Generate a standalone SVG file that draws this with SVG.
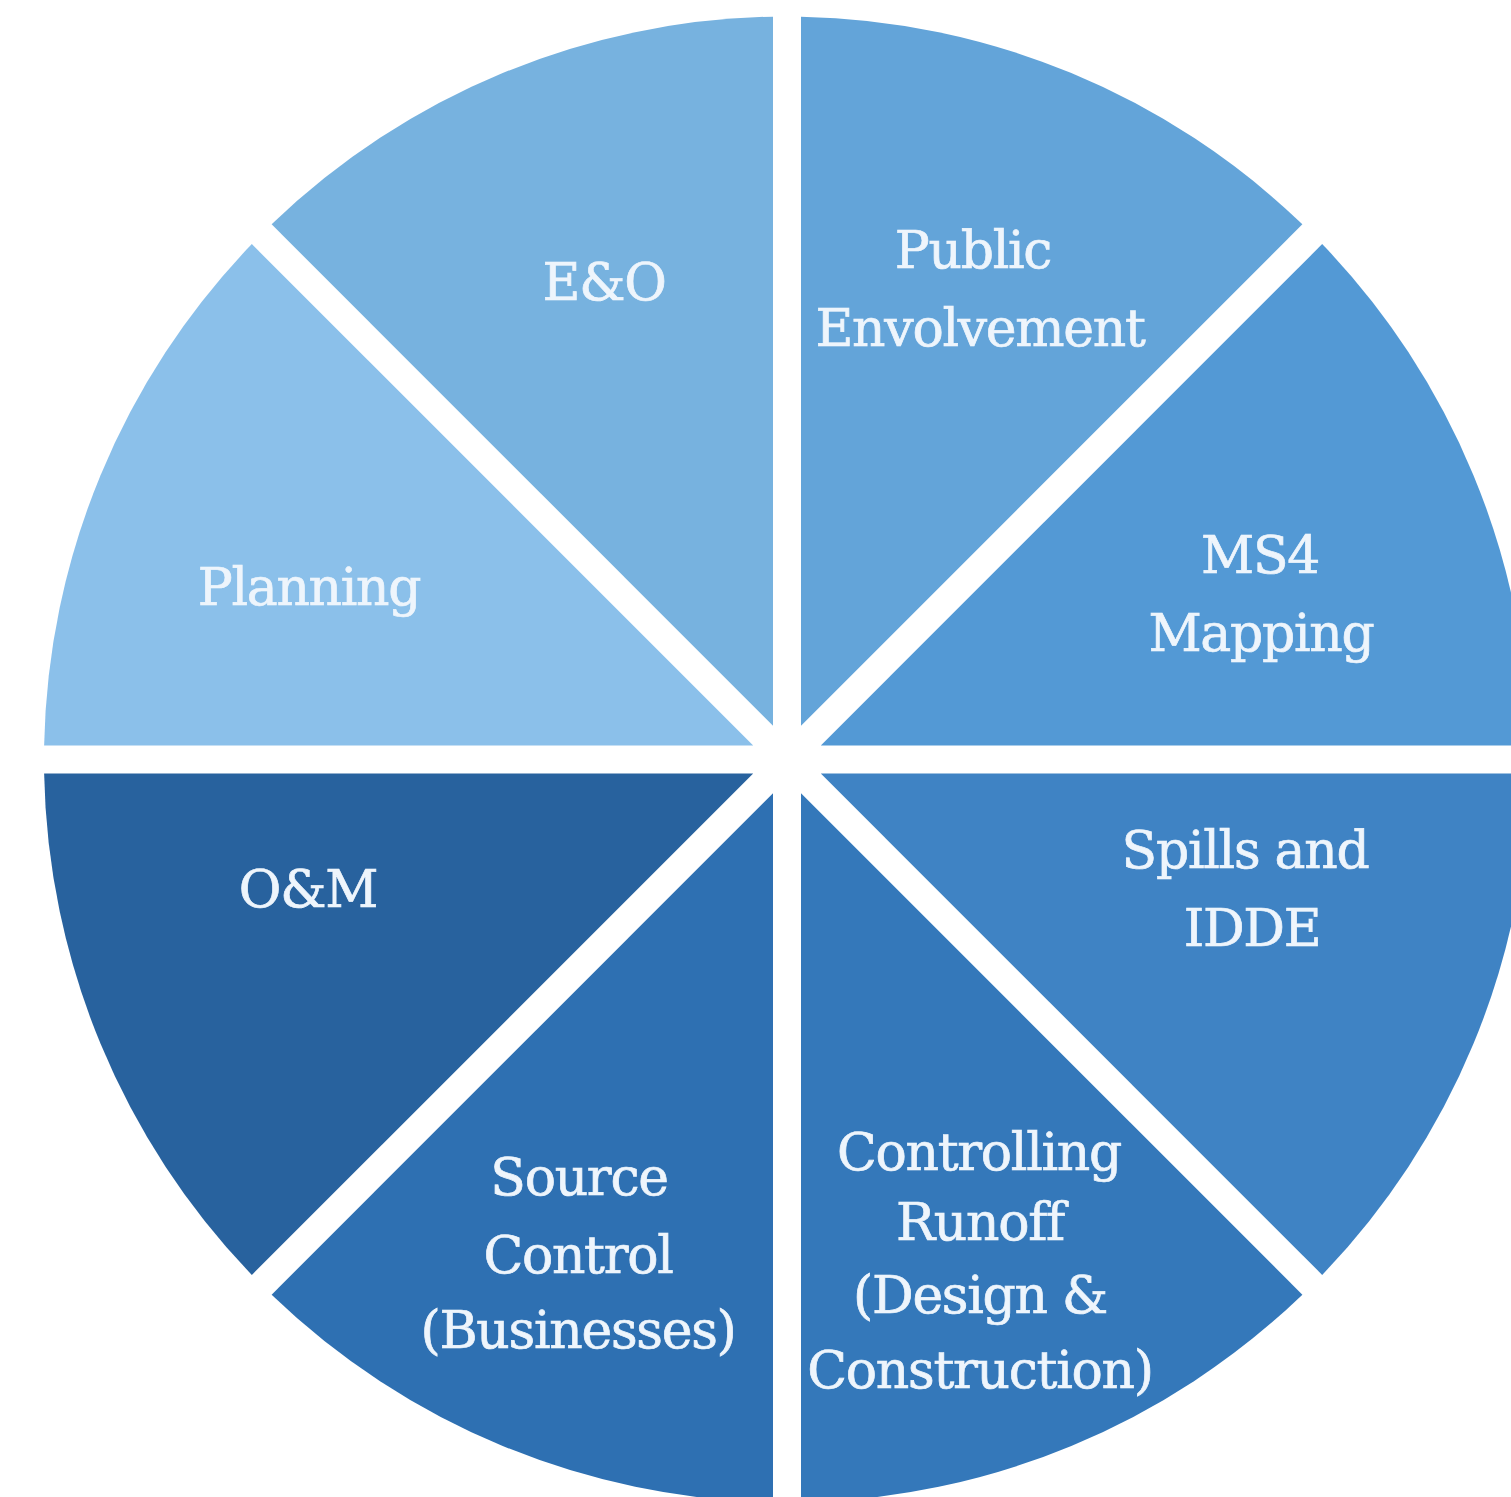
<svg xmlns="http://www.w3.org/2000/svg" width="1511" height="1497" viewBox="0 0 1511 1497">
<style>
.lbl{font-family:"DejaVu Serif","Liberation Serif",serif;font-size:52px;fill:#eef5fc;stroke:#eef5fc;stroke-width:0.7px;letter-spacing:-1.3px;text-anchor:middle}
</style>
<rect width="1511" height="1497" fill="#ffffff"/>
<g id="slices" transform="translate(787,759.5)">
<g id="spills"><path d="M33.8 14 L742.87 14 A743 743 0 0 1 535.18 515.38 Z" fill="#3f83c4"/></g>
<g id="runoff"><path d="M14 33.8 L515.38 535.18 A743 743 0 0 1 14 742.87 Z" fill="#3478ba"/></g>
<g id="source"><path d="M-14 33.8 L-14 742.87 A743 743 0 0 1 -515.38 535.18 Z" fill="#2e70b2"/></g>
<g id="om"><path d="M-33.8 14 L-535.18 515.38 A743 743 0 0 1 -742.87 14 Z" fill="#28629e"/></g>
<g id="planning"><path d="M-33.8 -14 L-742.87 -14 A743 743 0 0 1 -535.18 -515.38 Z" fill="#8bc0ea"/></g>
<g id="eo"><path d="M-14 -33.8 L-515.38 -535.18 A743 743 0 0 1 -14 -742.87 Z" fill="#77b2df"/></g>
<g id="public"><path d="M14 -33.8 L14 -742.87 A743 743 0 0 1 515.38 -535.18 Z" fill="#63a4d9"/></g>
<g id="ms4"><path d="M33.8 -14 L535.18 -515.38 A743 743 0 0 1 742.87 -14 Z" fill="#5399d5"/></g>
</g>
<g id="labels">
<text class="lbl" x="309" y="605">Planning</text>
<text class="lbl" x="604" y="300">E&amp;O</text>
<text class="lbl" x="973" y="268">Public</text>
<text class="lbl" x="980" y="346">Envolvement</text>
<text class="lbl" x="1260" y="573">MS4</text>
<text class="lbl" x="1261" y="651">Mapping</text>
<text class="lbl" x="1245" y="868">Spills and</text>
<text class="lbl" x="1252" y="946">IDDE</text>
<text class="lbl" x="308" y="907">O&amp;M</text>
<text class="lbl" x="579" y="1195">Source</text>
<text class="lbl" x="578" y="1273">Control</text>
<text class="lbl" x="578" y="1348">(Businesses)</text>
<text class="lbl" x="979" y="1170">Controlling</text>
<text class="lbl" x="980" y="1240">Runoff</text>
<text class="lbl" x="980" y="1313">(Design &amp;</text>
<text class="lbl" x="980" y="1388">Construction)</text>
</g>
</svg>
